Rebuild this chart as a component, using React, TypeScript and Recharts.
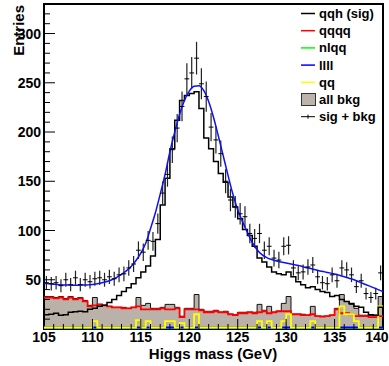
import { ComposedChart, XAxis, YAxis, Area, Line, Scatter, ErrorBar, ReferenceArea } from 'recharts'

// Higgs mass histogram, 70 bins of 0.5 GeV from 105 to 140 GeV
const EDGE0 = 105
const BIN_W = 0.5

// data points (sig + bkg), one per bin
const sigBkg = [
  47, 46, 47, 44, 50, 45, 52, 45, 50, 48, 51, 52, 50, 53, 51, 55, 56, 62, 66, 80,
  78, 90, 89, 107, 138, 157, 182, 204, 226, 254, 260, 275, 249, 236, 205, 192, 178, 150, 131, 124,
  117, 114, 97, 92, 97, 80, 84, 72, 70, 84, 85, 62, 57, 58, 63, 65, 53, 47, 46, 55,
  49, 62, 60, 55, 43, 49, 36, 32, 36, 57,
]

// qqh signal histogram
const qqhSig = [
  14.5, 15, 16, 14, 14.5, 17, 17.5, 18, 17.5, 20, 21, 23, 24, 27, 30, 34, 38, 42, 46, 52,
  58, 64, 74, 91, 126, 153, 183, 212, 232, 237, 239, 241, 224, 194, 183, 170, 158, 149, 134, 124,
  112, 101, 95, 84, 72, 68, 63, 58, 56, 55, 58, 53, 48, 45, 42, 43, 40, 38, 37, 33,
  34, 30, 28, 26, 23, 22, 17, 14.5, 14, 22,
]

// sum of all backgrounds
const allBkg = [
  33, 33, 32, 33, 31, 33, 31, 32, 29, 24, 32, 25, 24, 23, 22, 22, 22, 21, 22, 32,
  24, 26, 21, 21, 22, 25, 25, 22, 13, 21, 21, 35, 20, 18, 18, 19, 17, 18, 15, 14.5,
  17, 17, 17, 17, 25, 19, 23, 17, 18, 26, 33, 15, 15, 15, 14, 23, 13, 13, 13, 14,
  21, 35, 28, 25, 21, 14, 14, 14, 14, 33,
]

const qqqq = [
  32, 32, 31, 32, 30, 32, 30, 31, 28, 23, 24, 25, 24, 23, 22, 22, 21, 21, 22, 23,
  20, 20, 20, 20, 21, 20, 20, 21, 12, 20, 20, 20, 19, 17, 17, 18, 17, 17, 15, 14,
  16, 16, 17, 16, 17, 18, 16, 17, 18, 18, 18, 15, 15, 14, 14, 15, 13, 12.5, 13, 14,
  20, 16, 16, 15, 13, 13, 13, 12, 12, 13,
]

const nlqq = [
  0, 0, 0, 0, 0, 0, 0, 0, 0, 0, 0, 0, 0, 0, 0, 0, 0, 0, 0, 0,
  0, 0, 0, 0, 0, 0, 0, 0, 0, 0, 0, 0, 0, 0, 0, 0, 0, 0, 0, 0,
  0, 0, 0, 0, 0, 0, 0, 0, 0, 0, 0, 0, 0, 0, 0, 0, 0, 0, 0, 0,
  0, 0, 0, 0, 0, 0, 0, 0, 0, 0,
]

const llll = [
  1.5, 1.5, 1.5, 1.5, 1.5, 1.5, 1.5, 1.5, 1.5, 1.5, 1.5, 1.5, 1.5, 1.5, 1.5, 1.5, 1.5, 1.5, 1.5, 1.5,
  1.5, 1.5, 1.5, 1.5, 1.5, 1.5, 1.5, 1.5, 1.5, 1.5, 1.5, 1.5, 1.5, 1.5, 1.5, 1.5, 1.5, 1.5, 1.5, 1.5,
  1.5, 1.5, 1.5, 1.5, 1.5, 1.5, 1.5, 1.5, 1.5, 1.5, 1.5, 1.5, 1.5, 1.5, 1.5, 1.5, 1.5, 1.5, 1.5, 1.5,
  1.5, 1.5, 1.5, 1.5, 1.5, 1.5, 1.5, 1.5, 1.5, 1.5,
]

const qq = [
  1.5, 1.5, 1.5, 1.5, 1.5, 1.5, 1.5, 1.5, 1.5, 1.5, 8, 1.5, 1.5, 1.5, 1.5, 1.5, 1.5, 1.5, 1.5, 9,
  1.5, 8, 1.5, 1.5, 1.5, 8, 8, 1.5, 6, 1.5, 1.5, 15, 1.5, 1.5, 1.5, 1.5, 1.5, 1.5, 1.5, 1.5,
  1.5, 1.5, 1.5, 1.5, 8, 1.5, 8, 1.5, 1.5, 8, 15, 1.5, 1.5, 1.5, 1.5, 8, 1.5, 1.5, 1.5, 1.5,
  1.5, 23, 15, 15, 8, 1.5, 1.5, 1.5, 1.5, 23,
]

// fit curve sampled at the bin edges 105, 105.5, ... 140
const fitCurve = [
  46.5, 46, 45.5, 45, 44.8, 44.6, 44.5, 44.5, 44.6, 44.8, 45.2, 46, 47, 48.2, 50, 52.5, 55.5, 59, 63.5, 69.5,
  77, 87, 102, 118, 137, 157, 180, 200, 218, 232, 241.5, 246.5, 247, 242, 231, 215, 196, 176, 156, 137,
  121, 109, 98, 88, 80.5, 75.5, 72.5, 70.5, 69, 68, 67, 66, 65, 64, 62.5, 61.5, 60.2, 59, 58, 57,
  55.8, 54.5, 53, 51.5, 50, 48, 46, 44, 42, 40, 38,
]

const xTicks = [
  105, 106, 107, 108, 109, 110, 111, 112, 113, 114, 115, 116, 117, 118, 119, 120, 121, 122,
  123, 124, 125, 126, 127, 128, 129, 130, 131, 132, 133, 134, 135, 136, 137, 138, 139, 140,
]
const yTicks = [0, 10, 20, 30, 40, 50, 60, 70, 80, 90, 100, 110, 120, 130, 140, 150, 160, 170, 180, 190, 200, 210, 220, 230, 240, 250, 260, 270, 280, 290, 300, 310, 320, 330]

const legendItems = [
  { label: 'qqh (sig)', color: '#000000', kind: 'line' },
  { label: 'qqqq', color: '#ff0000', kind: 'line' },
  { label: 'nlqq', color: '#00ff00', kind: 'line' },
  { label: 'llll', color: '#0000ff', kind: 'line' },
  { label: 'qq', color: '#ffff00', kind: 'line' },
  { label: 'all bkg', color: '#bcb4ab', kind: 'box' },
  { label: 'sig + bkg', color: '#000000', kind: 'point' },
]

const FONT = '"Liberation Sans", Arial, sans-serif'
const BKG_FILL = '#bab2a9'

const N = sigBkg.length
const histRows = Array.from({ length: N + 1 }, (_, k) => {
  const i = Math.min(k, N - 1)
  return {
    m: EDGE0 + k * BIN_W,
    bkg: allBkg[i],
    qqqq: qqqq[i],
    nlqq: nlqq[i],
    llll: llll[i],
    qq: qq[i],
    sig: qqhSig[i],
    fit: fitCurve[k],
  }
})

const points = sigBkg.map((v, i) => ({ m: EDGE0 + (i + 0.5) * BIN_W, y: v, err: Math.sqrt(v) }))

function YTick(props: any) {
  const { x, y, payload } = props
  const v = payload.value as number
  if (v === 0 || v === 330) return <g />
  const major = v % 50 === 0
  return (
    <g>
      <line x1={x} x2={x + (major ? 11 : 6)} y1={y} y2={y} stroke="#000" strokeWidth={1} />
      {major && (
        <text x={x - 3} y={y + 5} textAnchor="end" fontFamily={FONT} fontWeight="bold" fontSize={14} fill="#000">
          {v}
        </text>
      )}
    </g>
  )
}

function XTick(props: any) {
  const { x, y, payload } = props
  const v = payload.value as number
  const major = v % 5 === 0
  // the last label is pulled in so it stays inside the picture
  const last = v === 140
  return (
    <g>
      {v !== 105 && !last && (
        <line x1={x} x2={x} y1={y} y2={y - (major ? 10 : 5)} stroke="#000" strokeWidth={1} />
      )}
      {major && (
        <text
          x={last ? x + 5.5 : x}
          y={y + 13}
          textAnchor={last ? 'end' : 'middle'}
          fontFamily={FONT}
          fontWeight="bold"
          fontSize={14}
          fill="#000"
        >
          {v}
        </text>
      )}
    </g>
  )
}

function DataMark(props: any) {
  const { cx, cy } = props
  return <line x1={cx - 2.4} x2={cx + 2.4} y1={cy} y2={cy} stroke="#000" strokeWidth={1} />
}

function LegendBox() {
  return (
    <svg width={389} height={366} style={{ position: 'absolute', left: 0, top: 0, pointerEvents: 'none' }}>
      {legendItems.map((it, i) => {
        const cy = 13.5 + i * 17.2
        return (
          <g key={it.label}>
            {it.kind === 'line' && <line x1={301} x2={315} y1={cy} y2={cy} stroke={it.color} strokeWidth={1.5} />}
            {it.kind === 'box' && <rect x={301.5} y={cy - 6} width={14} height={12} fill={it.color} stroke="#333" strokeWidth={1} />}
            {it.kind === 'point' && (
              <g>
                <line x1={301} x2={315} y1={cy} y2={cy} stroke="#000" strokeWidth={1} />
                <line x1={308} x2={308} y1={cy - 2} y2={cy + 2} stroke="#000" strokeWidth={1} />
              </g>
            )}
            <text x={319} y={cy + 4.5} fontFamily={FONT} fontWeight="bold" fontSize={13} fill="#000">
              {it.label}
            </text>
          </g>
        )
      })}
      <text transform="rotate(-90)" x={-5} y={24} textAnchor="end" fontFamily={FONT} fontWeight="bold" fontSize={15} fill="#000">
        Entries
      </text>
      <text x={213} y={359} textAnchor="middle" fontFamily={FONT} fontWeight="bold" fontSize={15} fill="#000">
        Higgs mass (GeV)
      </text>
    </svg>
  )
}

export default function App() {
  return (
    <div style={{ position: 'absolute', left: 0, top: 0, width: 389, height: 366, background: '#fff' }}>
      <ComposedChart width={389} height={366} data={histRows} margin={{ top: 4, right: 6, bottom: 0, left: 0 }}>
        <XAxis
          type="number"
          dataKey="m"
          domain={[105, 140]}
          ticks={xTicks}
          interval={0}
          height={37}
          tickSize={0}
          tickMargin={0}
          tickLine={false}
          axisLine={false}
          tick={(p: any) => <XTick {...p} />}
          allowDataOverflow
        />
        <YAxis
          type="number"
          domain={[0, 330]}
          ticks={yTicks}
          interval={0}
          width={44}
          tickSize={0}
          tickMargin={0}
          tickLine={false}
          axisLine={false}
          tick={(p: any) => <YTick {...p} />}
          allowDataOverflow
        />
        <Area type="stepAfter" dataKey="bkg" stroke="#111" strokeWidth={1} fill={BKG_FILL} fillOpacity={1} isAnimationActive={false} />
        <Line type="stepAfter" dataKey="qqqq" stroke="#ff0000" strokeWidth={1.8} dot={false} isAnimationActive={false} />
        <Line type="stepAfter" dataKey="nlqq" stroke="#00ff00" strokeWidth={1.8} dot={false} isAnimationActive={false} />
        <Line type="stepAfter" dataKey="llll" stroke="#0000ff" strokeWidth={1.8} dot={false} isAnimationActive={false} />
        <Line type="stepAfter" dataKey="qq" stroke="#ffff00" strokeWidth={1.8} dot={false} isAnimationActive={false} />
        <Line type="stepAfter" dataKey="sig" stroke="#000" strokeWidth={1.5} dot={false} isAnimationActive={false} />
        <Scatter data={points} dataKey="y" shape={(p: any) => <DataMark {...p} />} isAnimationActive={false}>
          <ErrorBar dataKey="err" direction="y" width={0} stroke="#222" strokeWidth={1.2} isAnimationActive={false} />
        </Scatter>
        <Line type="monotone" dataKey="fit" stroke="#1010f0" strokeWidth={1.5} dot={false} isAnimationActive={false} />
        <ReferenceArea x1={105} x2={140} y1={0} y2={330} fill="none" stroke="#000" strokeWidth={2} ifOverflow="visible" />
      </ComposedChart>
      <LegendBox />
    </div>
  )
}
